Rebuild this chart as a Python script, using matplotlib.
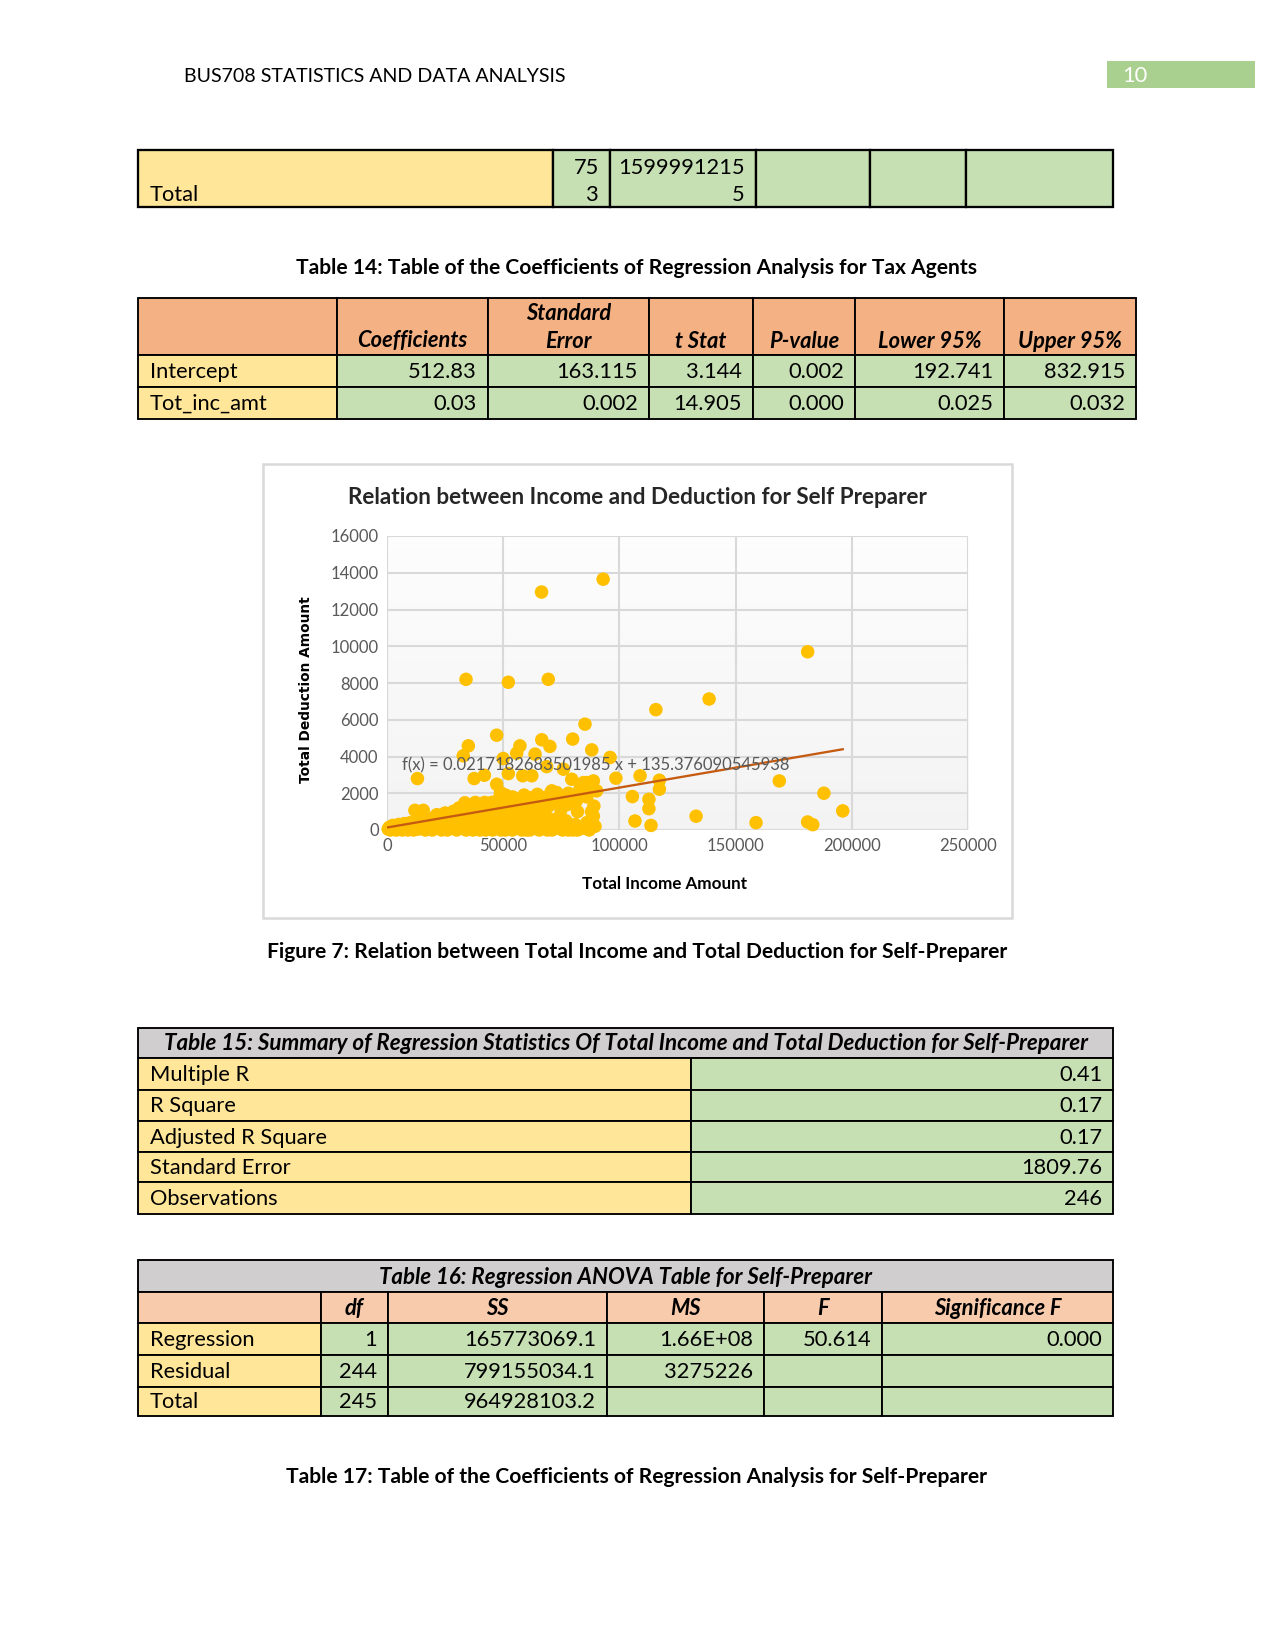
import numpy as np
import matplotlib
matplotlib.use("Agg")
import matplotlib.pyplot as plt
from matplotlib.patches import Rectangle

plt.rcParams['font.family'] = ['Lato', 'DejaVu Sans']

# ---- data ----
header_text = "BUS708 STATISTICS AND DATA ANALYSIS"
page_no = "10"

top_row = ["Total", "75\n3", "1599991215\n5", "", "", ""]

t14_caption = "Table 14: Table of the Coefficients of Regression Analysis for Tax Agents"
t14_cols = ["", "Coefficients", "Standard\nError", "t Stat", "P-value", "Lower 95%", "Upper 95%"]
t14_rows = ["Intercept", "Tot_inc_amt"]
t14_vals = [["512.83", "163.115", "3.144", "0.002", "192.741", "832.915"],
            ["0.03", "0.002", "14.905", "0.000", "0.025", "0.032"]]

chart_title = "Relation between Income and Deduction for Self Preparer"
x_label = "Total Income Amount"
y_label = "Total Deduction Amount"
trend_slope = 0.0217182683501985
trend_intercept = 135.376090545938

income = [
    # 0 - 20k
    500, 1000, 1500, 2000, 2500, 3000, 3500, 4000, 4500, 5000, 5500, 6000, 6500, 7000, 7500,
    8000, 8500, 9000, 9500, 10000, 10500, 11000, 11500, 12000, 12500, 13000, 13100, 13500,
    14000, 14500, 15000, 15600, 16000, 16500, 17000, 17500, 18000, 18500, 19000, 19500, 20000,
    # 20k - 30k
    20500, 21000, 21400, 22000, 22500, 23000, 23500, 24000, 24500, 25000, 25500, 26000, 26500,
    27000, 27500, 28000, 28600, 29000, 29500, 30000,
    # 30k - 40k
    30500, 31000, 31500, 32000, 32500, 32800, 33000, 33500, 34000, 34000, 34500, 35000, 35000,
    35500, 36000, 36500, 36500, 37000, 37500, 37500, 38000, 38500, 39000, 39500, 39500, 40000,
    # 40k - 50k
    40500, 41000, 41600, 41900, 42000, 42500, 43000, 43500, 44000, 44500, 45000, 45500, 46000,
    46500, 47000, 47200, 47200, 47500, 48000, 48100, 48800, 49000, 49500, 50000, 50000, 50000,
    # 50k - 60k
    50300, 50500, 51000, 51500, 52000, 52200, 52200, 52500, 53000, 53200, 53500, 54000, 54500,
    55000, 55300, 55800, 56000, 56500, 57000, 57200, 57500, 58000, 58400, 58500, 59000, 59500, 60000,
    # 60k - 70k
    60400, 60500, 61000, 61500, 61800, 62300, 62500, 63000, 63700, 64000, 64700, 65000, 65500,
    66000, 66500, 66600, 67000, 67600, 68000, 68700, 69000, 69400, 69500, 70000,
    # 70k - 80k
    70100, 70500, 70900, 71000, 71500, 72000, 72500, 73000, 74000, 74900, 75500, 75900, 76000,
    77000, 77700, 78000, 79000, 79500, 79900, 80000,
    # 80k - 95k
    81000, 81400, 82000, 83000, 84000, 84500, 85000, 85200, 85900, 86000, 87000, 88000, 88100,
    88500, 88800, 88800, 89500, 90200, 93000,
    # > 95k
    96000, 98500, 105600, 106700, 108900, 112700, 112700, 113600, 115700, 117200, 117200,
    133000, 138600, 158800, 168800, 181000, 181000, 183200, 188000, 196100,
    # dense band fill
    22000, 27000, 31000, 38000, 42000, 45000, 49000, 51000, 54000, 56000,
    59000, 63000, 66000, 68000, 72000, 76000, 78000, 82000, 86000, 89000,
]
deduction = [
    50, 150, 0, 100, 250, 50, 180, 0, 120, 300, 60, 200, 0, 150, 350,
    80, 250, 0, 180, 400, 100, 300, 0, 1070, 200, 450, 2800, 50,
    350, 150, 500, 1070, 250, 0, 400, 600, 100, 300, 550, 0, 200,
    700, 400, 830, 100, 550, 300, 0, 650, 200, 925, 450, 0, 750,
    300, 550, 100, 1020, 400, 700, 0,
    250, 850, 500, 100, 650, 4040, 300, 1480, 8200, 0, 900, 4580, 450,
    200, 1100, 1300, 600, 0, 2800, 350, 800, 150, 1000, 1390, 500, 0,
    700, 250, 1200, 2980, 900, 0, 550, 1050, 300, 1300, 750, 0, 1100,
    400, 900, 5160, 2490, 150, 1670, 600, 2040, 0, 1200, 3890, 1890, 350,
    1760, 800, 0, 1400, 500, 8040, 3070, 1000, 200, 1570, 700, 0, 1200,
    400, 1300, 4180, 900, 100, 600, 4580, 1670, 0, 2950, 1100, 300, 800, 0,
    1480, 500, 1000, 0, 1760, 2950, 300, 700, 4130, 100, 1940, 1200, 0,
    500, 12950, 4910, 900, 1570, 200, 3450, 0, 8200, 1300, 600,
    4550, 2040, 2130, 0, 400, 1500, 100, 2040, 700, 1110, 0, 3310, 300,
    500, 1390, 0, 200, 2760, 4950, 0,
    300, 1570, 0, 2220, 100, 2580, 2130, 5760, 2580, 400, 0, 1000, 4360,
    400, 760, 2670, 200, 2130, 13650,
    3950, 2820, 1820, 490, 2950, 1670, 1160, 250, 6550, 2710, 2220,
    750, 7130, 400, 2670, 9700, 436, 290, 2000, 1040,
    800, 900, 1200, 1500, 1500, 1500, 1500, 1900, 1800, 1500,
    1900, 1500, 1800, 1100, 1800, 1800, 2000, 1000, 1800, 1300,
]

fig7_caption = "Figure 7: Relation between Total Income and Total Deduction for Self-Preparer"

t15_title = "Table 15: Summary of Regression Statistics Of Total Income and Total Deduction for Self-Preparer"
t15_labels = ["Multiple R", "R Square", "Adjusted R Square", "Standard Error", "Observations"]
t15_vals = ["0.41", "0.17", "0.17", "1809.76", "246"]

t16_title = "Table 16: Regression ANOVA Table for Self-Preparer"
t16_cols = ["", "df", "SS", "MS", "F", "Significance F"]
t16_rows = ["Regression", "Residual", "Total"]
t16_vals = [["1", "165773069.1", "1.66E+08", "50.614", "0.000"],
            ["244", "799155034.1", "3275226", "", ""],
            ["245", "964928103.2", "", "", ""]]

t17_caption = "Table 17: Table of the Coefficients of Regression Analysis for Self-Preparer"

# ---- colours ----
YEL = "#ffe699"
GRN = "#c6e0b4"
ORG = "#f4b183"
ORG2 = "#f8cbad"
GRY = "#d0cece"
FS = 10.5
CAP = 10.1

W, H = 1275, 1650
fig = plt.figure(figsize=(W / 150, H / 150), dpi=150)
pg = fig.add_axes([0, 0, 1, 1])
pg.set_xlim(0, W)
pg.set_ylim(H, 0)
pg.axis("off")


def cell(x0, y0, x1, y1, color, lw=0.9):
    pg.add_patch(Rectangle((x0, y0), x1 - x0, y1 - y0, facecolor=color,
                           edgecolor="black", lw=lw, zorder=1))


# header
pg.text(184, 77, header_text, fontsize=9.4, va="center", ha="left", color="#000000")
pg.add_patch(Rectangle((1107, 61), 148, 27, facecolor="#a9d08e", edgecolor="none"))
pg.text(1122, 76, page_no, fontsize=10.5, color="white", va="center")

# top table (continuation)
xs = [138, 553, 610, 756, 870, 966, 1113]
for i in range(6):
    cell(xs[i], 150, xs[i + 1], 207, YEL if i == 0 else GRN, lw=1.1)
pg.text(xs[0] + 12, 195, top_row[0], fontsize=FS, va="center")
for i in (1, 2):
    lines = top_row[i].split("\n")
    pg.text(xs[i + 1] - 11, 168, lines[0], fontsize=FS, va="center", ha="right")
    pg.text(xs[i + 1] - 11, 195, lines[1], fontsize=FS, va="center", ha="right")

# table 14
pg.text(637, 268, t14_caption, fontsize=CAP, fontweight="bold", ha="center", va="center")
xs = [138, 337, 488, 649, 753, 855, 1004, 1136]
ys = [298, 355, 387, 419]
for i in range(7):
    cell(xs[i], ys[0], xs[i + 1], ys[1], ORG)
    for r in range(2):
        cell(xs[i], ys[r + 1], xs[i + 1], ys[r + 2], YEL if i == 0 else GRN)
for i in range(1, 7):
    lines = t14_cols[i].split("\n")
    xc = (xs[i] + xs[i + 1]) / 2
    if len(lines) == 2:
        pg.text(xc, 313, lines[0], fontsize=FS, fontweight="bold",
                style="italic", ha="center", va="center")
    pg.text(xc, 341, lines[-1], fontsize=FS, fontweight="bold",
            style="italic", ha="center", va="center")
for r in range(2):
    yc = (ys[r + 1] + ys[r + 2]) / 2 + 1
    pg.text(xs[0] + 12, yc, t14_rows[r], fontsize=FS, va="center")
    for c in range(6):
        pg.text(xs[c + 2] - 11, yc, t14_vals[r][c], fontsize=FS, va="center", ha="right")

# chart frame
pg.add_patch(Rectangle((263, 464), 749, 454, facecolor="white", edgecolor="#d9d9d9", lw=1.2))
pg.text(637, 498, chart_title, fontsize=10.8, fontweight="bold", ha="center", va="center",
        color="#262626")

ax = fig.add_axes([387 / W, 1 - 830 / H, 581 / W, 294 / H])
grad = np.linspace(1, 0, 100).reshape(-1, 1)
ax.imshow(grad, extent=[0, 250000, 0, 16000], aspect="auto", cmap="Greys",
          vmin=-0.2, vmax=12, origin="lower", zorder=0)
ax.set_xlim(0, 250000)
ax.set_ylim(0, 16000)
ax.set_xticks(np.arange(0, 250001, 50000))
ax.set_yticks(np.arange(0, 16001, 2000))
ax.grid(True, color="#d9d9d9", lw=1.0, zorder=1)
for s in ax.spines.values():
    s.set_visible(False)
ax.axhline(0, color="#bfbfbf", lw=1.2, zorder=1)
ax.axvline(0, color="#d9d9d9", lw=1.0, zorder=1)
ax.tick_params(length=0, labelsize=8, labelcolor="#595959", pad=4)
ax.scatter(income, deduction, s=42, color="#ffc000", edgecolors="none", zorder=3,
           clip_on=False)
xl = np.array([0, max(income)])
ax.plot(xl, trend_slope * xl + trend_intercept, color="#c55a11", lw=1.1, zorder=4)
ax.text(6500, 3500, "f(x) = %.16g x + %s" % (trend_slope, repr(trend_intercept)),
        fontsize=8, color="#595959", va="center", zorder=5)
ax.set_xlabel(x_label, fontsize=8.2, fontweight="bold", color="#000000", labelpad=9)
ax.xaxis.set_label_coords(0.478, -0.155)
ax.set_ylabel(y_label, fontsize=6.6, fontweight="bold", family="DejaVu Sans",
              color="#000000", labelpad=9)
ax.yaxis.set_label_coords(-0.127, 0.477)

pg.text(637, 952, fig7_caption, fontsize=CAP, fontweight="bold", ha="center", va="center")

# table 15
xs = [138, 691, 1113]
ys = [1028, 1058, 1090, 1121, 1152, 1182, 1214]
cell(xs[0], ys[0], xs[2], ys[1], GRY)
pg.text((xs[0] + xs[2]) / 2, (ys[0] + ys[1]) / 2 + 1, t15_title, fontsize=10.75, fontweight="bold",
        style="italic", ha="center", va="center")
for r in range(5):
    cell(xs[0], ys[r + 1], xs[1], ys[r + 2], YEL)
    cell(xs[1], ys[r + 1], xs[2], ys[r + 2], GRN)
    yc = (ys[r + 1] + ys[r + 2]) / 2 + 1
    pg.text(xs[0] + 12, yc, t15_labels[r], fontsize=FS, va="center")
    pg.text(xs[2] - 11, yc, t15_vals[r], fontsize=FS, va="center", ha="right")

# table 16
xs = [138, 321, 388, 607, 764, 882, 1113]
ys = [1260, 1292, 1323, 1355, 1387, 1416]
cell(xs[0], ys[0], xs[-1], ys[1], GRY)
pg.text((xs[0] + xs[-1]) / 2, (ys[0] + ys[1]) / 2 + 1, t16_title, fontsize=10.7, fontweight="bold",
        style="italic", ha="center", va="center")
for i in range(6):
    cell(xs[i], ys[1], xs[i + 1], ys[2], ORG2)
    pg.text((xs[i] + xs[i + 1]) / 2, (ys[1] + ys[2]) / 2 + 1, t16_cols[i], fontsize=FS,
            fontweight="bold", style="italic", ha="center", va="center")
    for r in range(3):
        cell(xs[i], ys[r + 2], xs[i + 1], ys[r + 3], YEL if i == 0 else GRN)
for r in range(3):
    yc = (ys[r + 2] + ys[r + 3]) / 2 + 1
    pg.text(xs[0] + 12, yc, t16_rows[r], fontsize=FS, va="center")
    for c in range(5):
        pg.text(xs[c + 2] - 11, yc, t16_vals[r][c], fontsize=FS, va="center", ha="right")

pg.text(637, 1477, t17_caption, fontsize=CAP, fontweight="bold", ha="center", va="center")

fig.savefig("out.png", dpi=150)
